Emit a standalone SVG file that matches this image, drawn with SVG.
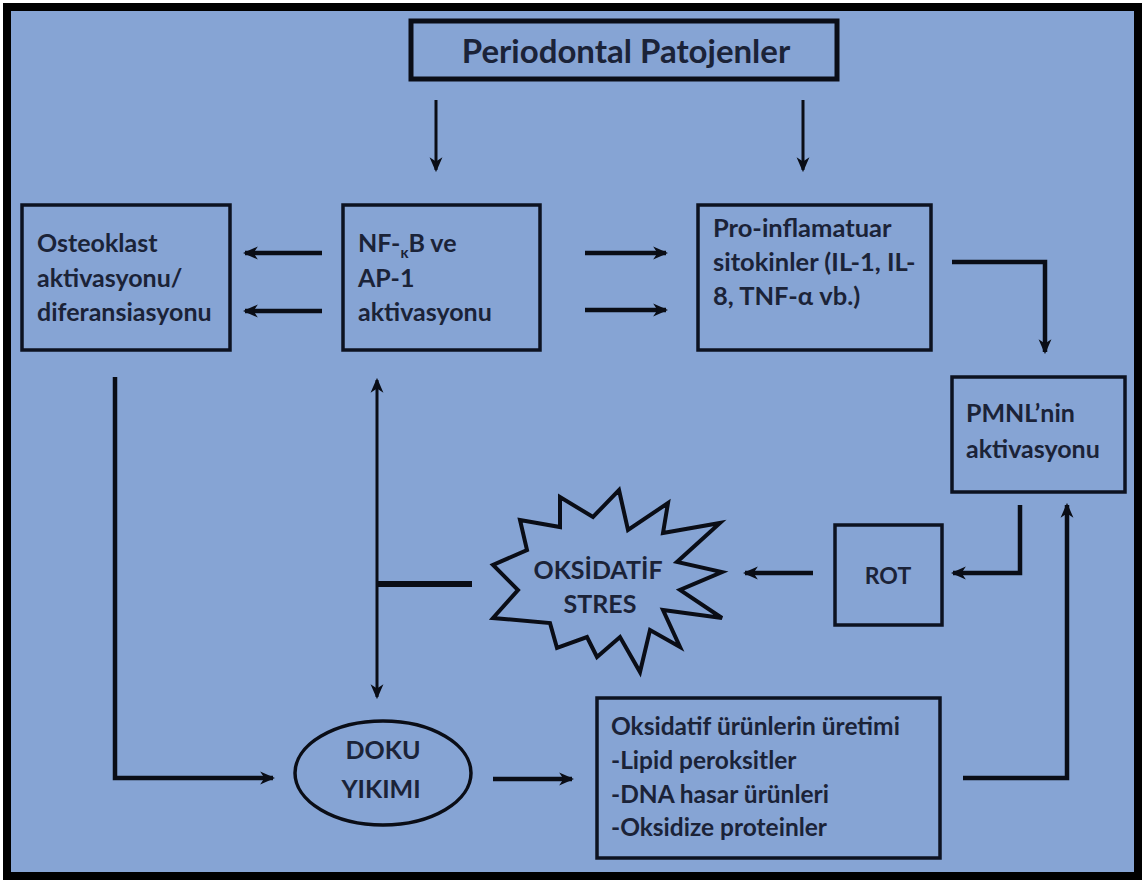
<svg xmlns="http://www.w3.org/2000/svg" width="1144" height="884" viewBox="0 0 1144 884">
<style>
.box{fill:none;stroke:#0d1220;stroke-width:3.5}
.t{font-family:Lato,"Liberation Sans",sans-serif;font-weight:700;fill:#1b2338}
.c{fill:none;stroke:#0a0d16;stroke-width:4.5}
.thin{fill:none;stroke:#0a0d16;stroke-width:3}
</style>
<defs>
<marker id="ah" viewBox="0 0 14 14" refX="12" refY="7" markerWidth="15" markerHeight="15" markerUnits="userSpaceOnUse" orient="auto-start-reverse">
<path d="M0,1 L14,7 L0,13 L4,7 z" fill="#0a0d16"/>
</marker>
</defs>
<rect x="0" y="0" width="1144" height="884" fill="#ffffff"/>
<rect x="7" y="7" width="1131" height="869" fill="#86a4d4" stroke="#000" stroke-width="8"/>

<g id="periodontal">
<rect x="411" y="21" width="426" height="58" fill="none" stroke="#0a0d16" stroke-width="5"/>
<text class="t" x="626" y="63" font-size="33" text-anchor="middle">Periodontal Patojenler</text>
</g>

<g id="osteoklast">
<rect class="box" x="22" y="205" width="208" height="145"/>
<text class="t" font-size="25"><tspan x="37" y="252">Osteoklast</tspan><tspan x="37" y="287">aktivasyonu/</tspan><tspan x="37" y="321">diferansiasyonu</tspan></text>
</g>

<g id="nfkb">
<rect class="box" x="343" y="205" width="197" height="145"/>
<text class="t" font-size="25"><tspan x="358" y="252">NF-<tspan font-size="15" dy="6">κ</tspan><tspan dy="-6">B ve</tspan></tspan><tspan x="358" y="287">AP-1</tspan><tspan x="358" y="321">aktivasyonu</tspan></text>
</g>

<g id="sitokin">
<rect class="box" x="698" y="205" width="233" height="145"/>
<text class="t" font-size="25.5"><tspan x="713" y="237">Pro-inflamatuar</tspan><tspan x="713" y="271">sitokinler (IL-1, IL-</tspan><tspan x="713" y="305">8, TNF-α vb.)</tspan></text>
</g>

<g id="pmnl">
<rect class="box" x="952" y="377" width="173" height="115"/>
<text class="t" font-size="25"><tspan x="966" y="422">PMNL’nin</tspan><tspan x="966" y="458">aktivasyonu</tspan></text>
</g>

<g id="rot">
<rect class="box" x="835" y="525" width="107" height="100"/>
<text class="t" x="888" y="584" font-size="23" text-anchor="middle">ROT</text>
</g>

<g id="oksidatif-stres">
<polygon points="619,490 628,530 668,503 663,533 720,523 677,562 722,572 680,590 722,618 663,610 680,647 650,630 640,672 620,637 597,657 587,637 557,648 550,623 493,618 518,590 493,565 527,550 520,520 560,527 560,497 593,517" fill="none" stroke="#0a0d16" stroke-width="4" stroke-linejoin="miter"/>
<text class="t" font-size="25" text-anchor="middle"><tspan x="598" y="579">OKSİDATİF</tspan><tspan x="600" y="613">STRES</tspan></text>
</g>

<g id="doku">
<ellipse cx="383" cy="773" rx="88" ry="52" fill="none" stroke="#0a0d16" stroke-width="3.5"/>
<text class="t" font-size="25" text-anchor="middle"><tspan x="383" y="759">DOKU</tspan><tspan x="381" y="798">YIKIMI</tspan></text>
</g>

<g id="urunler">
<rect class="box" x="597" y="698" width="343" height="160"/>
<text class="t" font-size="24.5"><tspan x="611" y="735">Oksidatif ürünlerin üretimi</tspan><tspan x="611" y="769">-Lipid peroksitler</tspan><tspan x="611" y="803">-DNA hasar ürünleri</tspan><tspan x="611" y="836">-Oksidize proteinler</tspan></text>
</g>

<g id="connectors">
<path class="thin" d="M436,100 V170" marker-end="url(#ah)"/>
<path class="thin" d="M803,100 V170" marker-end="url(#ah)"/>
<path class="c" d="M322,253 H245" marker-end="url(#ah)"/>
<path class="c" d="M322,311 H245" marker-end="url(#ah)"/>
<path class="c" d="M585,253 H666" marker-end="url(#ah)"/>
<path class="c" d="M585,310 H666" marker-end="url(#ah)"/>
<path class="c" d="M952,262 H1045 V352" marker-end="url(#ah)"/>
<path class="c" d="M1020,505 V573 H953" marker-end="url(#ah)"/>
<path class="c" d="M813,573 H745" marker-end="url(#ah)"/>
<path class="thin" d="M377,380 V697" marker-start="url(#ah)" marker-end="url(#ah)"/>
<path fill="none" stroke="#0a0d16" stroke-width="6" d="M377,584 H472"/>
<path class="c" d="M115,377 V778 H273" marker-end="url(#ah)"/>
<path class="c" d="M493,779 H572" marker-end="url(#ah)"/>
<path class="c" d="M963,778 H1067 V505" marker-end="url(#ah)"/>
</g>
</svg>
